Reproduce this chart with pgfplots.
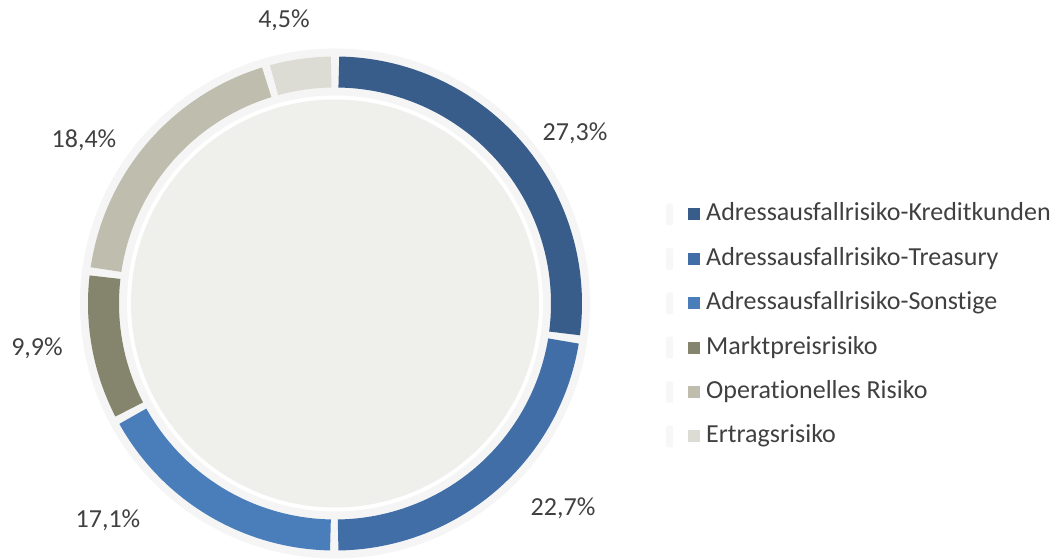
\documentclass[border=0pt]{standalone}
\usepackage{pgfplots}
\pgfplotsset{compat=1.18}
\usepackage{pgfplotstable}
\usepackage{fontspec}
\setmainfont{Carlito}[Ligatures={NoCommon,NoRequired,NoContextual}, Contextuals=NoAlternate]

\definecolor{cA}{RGB}{56,93,138}
\definecolor{cB}{RGB}{65,110,167}
\definecolor{cC}{RGB}{74,126,187}
\definecolor{cD}{RGB}{133,132,108}
\definecolor{cE}{RGB}{190,189,174}
\definecolor{cF}{RGB}{221,220,212}
\definecolor{disk}{RGB}{239,239,235}
\definecolor{ring}{RGB}{245,245,245}
\definecolor{txt}{RGB}{64,64,64}

% value, label position (pixels, baseline)
\pgfplotstableread{
value lx ly
27.3 575 141
22.7 563 516
17.1 108 528
9.9 37 356
18.4 84 148
4.5 284 28
}\data

\pgfplotstablegetelem{0}{value}\of\data \let\vA\pgfplotsretval
\pgfplotstablegetelem{1}{value}\of\data \let\vB\pgfplotsretval
\pgfplotstablegetelem{2}{value}\of\data \let\vC\pgfplotsretval
\pgfplotstablegetelem{3}{value}\of\data \let\vD\pgfplotsretval
\pgfplotstablegetelem{4}{value}\of\data \let\vE\pgfplotsretval
\pgfplotstablegetelem{5}{value}\of\data \let\vF\pgfplotsretval

\pgfmathsetmacro\eZ{0}
\pgfmathsetmacro\eA{\eZ+\vA}
\pgfmathsetmacro\eB{\eA+\vB}
\pgfmathsetmacro\eC{\eB+\vC}
\pgfmathsetmacro\eD{\eC+\vD}
\pgfmathsetmacro\eE{\eD+\vE}
\pgfmathsetmacro\eF{\eE+\vF}
\pgfmathsetmacro\tot{\eF}

\def\gap{0.95}
\def\cx{335}
\def\cy{247.5}
\def\rmid{231.5}

\newcommand\seg[3]{%
  \pgfmathsetmacro\lo{90-360*((#3)/\tot)+\gap}%
  \pgfmathsetmacro\hi{90-360*((#2)/\tot)-\gap}%
  \addplot[color=#1, line width=31pt, line cap=butt, domain=\lo:\hi, samples=90]
    ({\cx+\rmid*cos(x)},{\cy+\rmid*sin(x)});
}

\begin{document}
\begin{tikzpicture}
\begin{axis}[
  x=1pt, y=1pt, scale only axis,
  xmin=0, xmax=1054, ymin=0, ymax=551,
  enlargelimits=false, hide axis, clip=false,
  /pgf/number format/assume math mode=true,
  legend image code/.code={%
    \fill[black!3, draw=none, rounded corners=2pt] (0pt,-11pt) rectangle (7pt,11pt);
    \fill[#1, draw=none, line width=0pt] (22pt,-6pt) rectangle (34pt,6pt);},
  legend style={draw=none, fill=none, inner sep=0pt,
    at={(axis cs:666,225.5)}, anchor=west,
    font=\fontsize{26}{30}\selectfont, text=txt,
    row sep=19.4pt, column sep=6pt,
    nodes={inner sep=0pt, text height=19pt, text depth=6pt}},
  legend cell align=left,
]
\path (axis cs:0,0) rectangle (axis cs:1054,551);
\draw[ring, line width=47pt] (axis cs:\cx,\cy) circle[radius=\rmid pt];
\fill[disk] (axis cs:\cx,\cy) circle[radius=204pt];

\seg{cA}{\eZ}{\eA}
\addlegendentry{Adressausfallrisiko-Kreditkunden}
\seg{cB}{\eA}{\eB}
\addlegendentry{Adressausfallrisiko-Treasury}
\seg{cC}{\eB}{\eC}
\addlegendentry{Adressausfallrisiko-Sonst\kern0pt ige}
\seg{cD}{\eC}{\eD}
\addlegendentry{Marktpreisrisiko}
\seg{cE}{\eD}{\eE}
\addlegendentry{Operat\kern0pt ionelles Risiko}
\seg{cF}{\eE}{\eF}
\addlegendentry{Ertragsrisiko}

\addplot[draw=none, mark=none, forget plot,
  point meta=explicit,
  nodes near coords={\pgfmathprintnumber[fixed, fixed zerofill, precision=1, use comma]{\pgfplotspointmeta}\%},
  every node near coord/.style={anchor=base, inner sep=0pt, font=\fontsize{26}{30}\selectfont, text=txt}]
  table[x=lx, y expr=551-\thisrow{ly}, meta=value] {\data};
\end{axis}
\end{tikzpicture}
\end{document}
